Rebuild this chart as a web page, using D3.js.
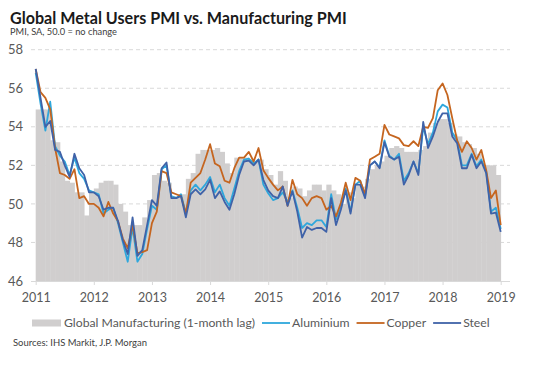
<!DOCTYPE html>
<html lang="en">
<head>
    <meta charset="UTF-8">
    <title>Global Metal Users PMI vs. Manufacturing PMI</title>
    <script src="https://d3js.org/d3.v7.min.js"></script>
    <style>
        body {
            margin: 0;
            background-color: white;
            font-family: Lato, "Open Sans", sans-serif;
        }
        svg text {
            font-family: Lato, "Open Sans", sans-serif;
        }
    </style>
</head>
<body>
    <svg id="chart"></svg>

    <script>
        // year tick labels and y ticks
        const yearLabels = ["2011", "2012", "2013", "2014", "2015", "2016", "2017", "2018", "2019"];
        const yTicks = [46, 48, 50, 52, 54, 56, 58];

        // Global Manufacturing PMI (1-month lag), monthly Jan 2011 - Dec 2018
        const manufacturing = [
            54.9, 54.9, 54.9, 53.3, 53.2, 52.2, 51.2, 51.1, 50.6, 50.6, 49.4, 50.6,
            50.8, 51.1, 51.2, 51.2, 51.0, 50.0, 49.6, 48.9, 48.9, 48.9, 49.3, 50.2,
            51.5, 51.6, 51.2, 51.1, 50.4, 50.3, 50.5, 51.3, 51.6, 52.6, 52.8, 52.8,
            52.8, 52.9, 52.7, 52.1, 51.6, 52.4, 52.4, 52.4, 52.3, 52.2, 52.3, 51.8,
            51.5, 51.0, 51.7, 51.2, 50.3, 50.9, 50.8, 50.4, 50.7, 51.0, 51.0, 50.7,
            51.0, 50.7, 50.5, 50.0, 50.6, 50.3, 51.0, 50.9, 51.3, 51.8, 52.0, 52.2,
            52.5, 52.9, 53.0, 52.9, 52.7, 52.7, 52.7, 52.8, 53.0, 53.7, 54.2, 54.4,
            54.4, 54.2, 53.6, 53.5, 53.2, 53.1, 52.9, 52.6, 52.0, 52.0, 52.0, 51.5
        ];

        // Metal users PMIs, monthly Jan 2011 - Jan 2019
        const aluminium = [
            56.8, 55.2, 53.8, 55.3, 53.0, 52.5, 52.2, 51.5, 52.4, 51.6, 51.3, 50.7,
            50.6, 50.5, 49.5, 49.7, 49.8, 49.0, 48.0, 47.0, 48.8, 47.0, 47.4, 48.7,
            49.9, 49.7, 51.8, 52.0, 50.4, 50.3, 50.5, 49.5, 50.7, 51.0, 50.7, 51.0,
            51.4, 50.6, 51.0, 50.3, 49.9, 50.8, 51.7, 52.3, 52.35, 52.1, 52.3, 51.0,
            50.55, 50.2, 50.3, 50.6, 50.1, 50.7, 49.8, 48.75, 49.0, 48.9, 49.15, 49.15,
            48.8, 50.5, 49.2, 49.9, 50.8, 49.6, 51.0, 51.2, 50.4, 52.0, 52.2, 51.9,
            53.3, 52.5, 52.3, 52.6, 51.2, 51.6, 52.2, 51.6, 54.0, 53.1, 53.7, 54.8,
            55.15, 55.0, 53.7, 53.3, 52.0, 52.0, 52.6, 51.95, 52.3, 51.7, 49.6, 49.8,
            48.7
        ];
        const copper = [
            57.0, 55.8, 55.5, 54.9, 52.9, 51.6, 51.5, 51.3, 51.8, 50.3, 50.4, 50.0,
            50.0, 49.8, 49.35, 50.1, 49.5, 49.1, 48.2, 47.7, 48.9, 47.45, 47.5, 47.6,
            49.0, 49.6, 51.7, 51.6, 50.6, 50.5, 50.4, 49.5, 51.1, 51.35, 51.6, 52.3,
            53.1, 52.1, 51.95, 51.2, 51.1, 51.85, 52.4, 52.4, 52.7, 52.2, 52.9, 51.75,
            51.35, 51.0, 50.7, 50.9, 49.9, 51.25, 50.5, 50.3, 49.9, 50.3, 50.4, 50.3,
            49.7, 49.9, 49.35, 50.05, 51.1, 50.2, 51.35, 51.2, 50.5, 52.3, 52.45, 52.6,
            54.1, 53.6, 53.5, 53.4, 53.05, 53.0, 53.25, 53.0, 54.0, 53.95, 54.45, 55.9,
            56.25, 55.65, 54.45, 53.3, 52.7, 53.25, 52.9, 52.3, 52.8, 51.75, 50.3, 50.7,
            48.9
        ];
        const steel = [
            57.0, 55.5, 54.0, 54.3, 52.8, 52.7, 52.0, 51.4, 52.6, 51.85, 51.5, 50.6,
            50.6, 50.4, 49.7, 49.8, 49.8, 49.1, 48.1, 47.4, 49.3, 47.3, 47.6, 48.9,
            50.2, 49.9, 51.85, 52.15, 50.3, 50.3, 50.4, 49.3, 50.5, 50.75, 50.5, 50.75,
            51.25, 50.3, 50.65, 50.1, 49.7, 50.5, 51.5, 52.2, 52.25, 52.0, 52.3, 51.25,
            50.7, 50.4, 50.3, 50.9, 49.9, 50.65, 49.6, 48.25, 48.8, 48.65, 48.75, 48.75,
            48.55, 50.3, 48.9, 49.7, 50.7, 49.5, 51.0, 51.0, 50.3, 52.0, 52.2, 51.85,
            53.2, 52.45, 52.3, 52.45, 51.0, 51.5, 52.2, 51.5, 54.25, 52.9, 53.5, 54.25,
            54.7, 54.7, 53.5, 53.15, 51.85, 51.85, 52.55, 51.85, 52.2, 51.6, 49.5, 49.55,
            48.55
        ];

        const W = 533, H = 366;
        const colors = {
            manufacturing: "#d0cece",
            aluminium: "#2ea7dc",
            copper: "#c5651f",
            steel: "#3f62a8"
        };

        const svg = d3.select("#chart").attr("width", W).attr("height", H);

        // shrink/grow font so the text spans the width seen in the chart
        function fit(sel, w) {
            const len = sel.node().getComputedTextLength();
            const fs = parseFloat(sel.attr("font-size"));
            sel.attr("font-size", (fs * w / len).toFixed(2));
        }

        // scales: x in fractional years
        const x = d3.scaleLinear().domain([2011, 2019]).range([35.7, 500.7]);
        const y = d3.scaleLinear().domain([46, 58]).range([281, 49.7]);
        const gridLeft = 31, gridRight = 510;
        const t = i => 2011 + i / 12;

        // title + subtitle
        const title = svg.append("text")
            .attr("x", 10).attr("y", 24)
            .attr("font-size", 16).attr("font-weight", "bold")
            .attr("fill", "#1a1a1a")
            .text("Global Metal Users PMI vs. Manufacturing PMI");
        fit(title, 337);

        const sub = svg.append("text")
            .attr("x", 10).attr("y", 35)
            .attr("font-size", 10).attr("fill", "#404040")
            .text("PMI, SA, 50.0 = no change");
        fit(sub, 107);

        // gridlines
        svg.append("g")
            .selectAll("line")
            .data(yTicks.filter(d => d > 46))
            .join("line")
            .attr("x1", gridLeft).attr("x2", gridRight)
            .attr("y1", d => y(d)).attr("y2", d => y(d))
            .attr("stroke", "#d9d9d9")
            .attr("stroke-dasharray", "4,3");

        // bars for manufacturing PMI (step area)
        svg.append("g")
            .selectAll("rect")
            .data(manufacturing)
            .join("rect")
            .attr("x", (d, i) => x(t(i)))
            .attr("width", (d, i) => x(t(i + 1)) - x(t(i)) + 0.4)
            .attr("y", d => y(d))
            .attr("height", d => y(46) - y(d))
            .attr("fill", colors.manufacturing);

        // x axis
        const xAxis = svg.append("g")
            .attr("transform", `translate(0,${y(46)})`)
            .call(d3.axisBottom(x)
                .tickValues(yearLabels.map(Number))
                .tickFormat(d3.format("d"))
                .tickSize(4)
                .tickPadding(8));
        xAxis.select(".domain").attr("d", `M${gridLeft},0.5H${gridRight}`).attr("stroke", "#d9d9d9");
        xAxis.selectAll(".tick line").attr("stroke", "#d9d9d9");
        xAxis.selectAll(".tick text")
            .attr("font-size", 12.5)
            .attr("fill", "#595959");

        // y axis labels
        const yAxis = svg.append("g")
            .attr("transform", `translate(${gridLeft},0)`)
            .call(d3.axisLeft(y).tickValues(yTicks).tickSize(0).tickPadding(8));
        yAxis.select(".domain").remove();
        yAxis.selectAll(".tick text")
            .attr("font-size", 13)
            .attr("fill", "#595959");

        // lines
        const line = d3.line()
            .x((d, i) => x(t(i)))
            .y(d => y(d));

        [["aluminium", aluminium], ["copper", copper], ["steel", steel]].forEach(([key, values]) => {
            svg.append("path")
                .datum(values)
                .attr("d", line)
                .attr("fill", "none")
                .attr("stroke", colors[key])
                .attr("stroke-width", 1.8)
                .attr("stroke-linejoin", "round");
        });

        // legend
        const legend = svg.append("g").attr("transform", "translate(32,323)");
        let lx = 0;
        legend.append("rect")
            .attr("x", 0).attr("y", -3.5)
            .attr("width", 29).attr("height", 7)
            .attr("fill", colors.manufacturing);
        lx = 32;
        const first = legend.append("text")
            .attr("x", lx).attr("y", 0).attr("dy", "0.35em")
            .attr("font-size", 13).attr("fill", "#595959")
            .text("Global Manufacturing (1-month lag)");
        fit(first, 191);
        const legendFont = first.attr("font-size");
        lx += 191 + 7;

        [["aluminium", "Aluminium"], ["copper", "Copper"], ["steel", "Steel"]].forEach(([key, label]) => {
            legend.append("line")
                .attr("x1", lx).attr("x2", lx + 28)
                .attr("y1", 0).attr("y2", 0)
                .attr("stroke", colors[key])
                .attr("stroke-width", 1.8);
            lx += 30;
            const txt = legend.append("text")
                .attr("x", lx).attr("y", 0).attr("dy", "0.35em")
                .attr("font-size", legendFont).attr("fill", "#595959")
                .text(label);
            lx += txt.node().getComputedTextLength() + 7;
        });

        // sources
        const src = svg.append("text")
            .attr("x", 13).attr("y", 346)
            .attr("font-size", 9).attr("fill", "#404040")
            .text("Sources: IHS Markit, J.P. Morgan");
        fit(src, 134);
    </script>
</body>
</html>
